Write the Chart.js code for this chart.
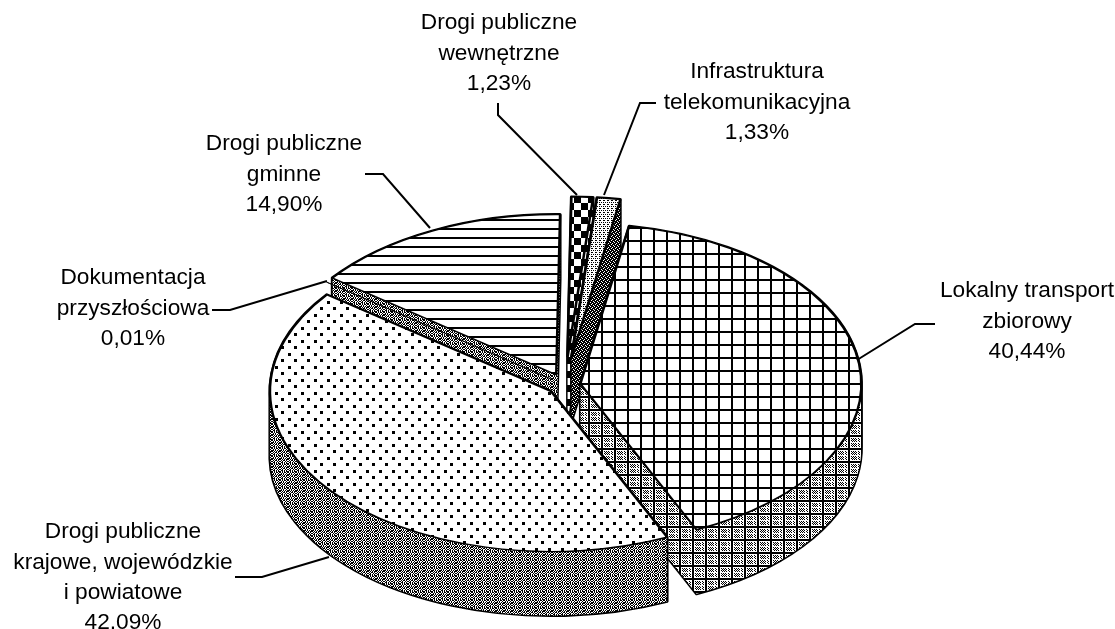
<!DOCTYPE html>
<html lang="pl">
<head>
<meta charset="utf-8">
<title>Pie</title>
<style>html,body{margin:0;padding:0;background:#fff;overflow:hidden}canvas{display:block}</style>
<script src="https://cdn.jsdelivr.net/npm/chart.js@4/dist/chart.umd.js"></script>
</head>
<body>
<canvas id="c" width="1115" height="629"></canvas>
<script>
// ---- values ----
const categories = ['Lokalny transport zbiorowy','Drogi publiczne krajowe, wojewódzkie i powiatowe','Dokumentacja przyszłościowa','Drogi publiczne gminne','Drogi publiczne wewnętrzne','Infrastruktura telekomunikacyjna'];
const shares = [40.44, 42.09, 0.01, 14.90, 1.23, 1.33];
const explodeDistances = [15.5, 18, 18, 20, 49, 49];

const labelLines = [
  ['Lokalny transport','zbiorowy','40,44%'],
  ['Drogi publiczne','krajowe, wojewódzkie','i powiatowe','42,09%'],
  ['Dokumentacja','przyszłościowa','0,01%'],
  ['Drogi publiczne','gminne','14,90%'],
  ['Drogi publiczne','wewnętrzne','1,23%'],
  ['Infrastruktura','telekomunikacyjna','1,33%']
];
const labelAnchors = [[1027,291],[123,532],[133,278],[284,144],[499,23],[757,72]];
const leaders = [
  [[935,324],[915,324],[857,360]],
  [[235,577],[262,577],[329,557]],
  [[212,310],[230,310],[327,281]],
  [[365,174],[383,174],[430,228]],
  [[498,103],[498,115],[577,195]],
  [[656,103],[640,103],[604,195]]
];

// ---- style ----
const SQUASH = 0.57, DEPTH = 64, RADIUS = 281, ROTATION = 10;
const LINE_GAP = 30.3, FONT = '22.7px "Liberation Sans", Arial, sans-serif';

function tile(w, h, paint) {
  const t = document.createElement('canvas');
  t.width = w; t.height = h;
  const g = t.getContext('2d');
  g.fillStyle = '#fff'; g.fillRect(0, 0, w, h);
  g.fillStyle = '#000';
  paint(g);
  return document.createElement('canvas').getContext('2d').createPattern(t, 'repeat');
}
function bitmap(rows) {
  return tile(rows[0].length, rows.length, g => rows.forEach((r, y) => [...r].forEach((c, x) => { if (c === '#') g.fillRect(x, y, 1, 1); })));
}
const gridTop = tile(13, 13, g => { g.fillRect(3, 0, 2, 13); g.fillRect(0, 6, 13, 2); });
const dotsTop = tile(13, 13, g => { g.fillRect(2, 2, 3, 3); g.fillRect(8, 8, 3, 3); });
const linesTop = tile(9, 9, g => g.fillRect(0, 3, 9, 2));
const checkerTop = tile(14, 14, g => { g.fillRect(0, 0, 7, 7); g.fillRect(7, 7, 7, 7); });
const fineTop = bitmap(['#..#','....','.#.#','....']);
const ditherWall = bitmap(['#.#.##.#','.#.#..#.','##.#.#.#','#.#.#.##','.#.##.#.','#.#..#.#','.##.#.#.','#.#.#.##']);
const gridWall = tile(13, 13, g => {
  g.fillRect(3, 0, 2, 13); g.fillRect(0, 6, 13, 2);
  [[6,1],[8,1],[10,1],[7,2],[9,2],[11,2],[6,3],[8,3],[10,3],[7,4],[9,4],[11,4],
   [6,9],[8,9],[10,9],[7,10],[9,10],[11,10],[6,11],[8,11],[10,11],[7,12],[9,12],[11,12],
   [0,1],[1,2],[0,3],[1,4],[0,9],[1,10],[0,11],[1,12]].forEach(p => g.fillRect(p[0], p[1], 1, 1));
});
const darkWall = bitmap(['###.','#.##','##.#','.###']);
const topFills = [gridTop, dotsTop, ditherWall, linesTop, checkerTop, fineTop];
const wallFills = [gridWall, ditherWall, ditherWall, ditherWall, checkerTop, darkWall];

// ---- a pie controller that tilts and extrudes its arcs ----
class Pie3DController extends Chart.PieController {
  draw() {
    const ctx = this.chart.ctx;
    const arcs = this._cachedMeta.data;
    const placed = arcs.map((arc, i) => {
      const mid = (arc.startAngle + arc.endAngle) / 2;
      const e = explodeDistances[i];
      return { arc, i, x: arc.x + e * Math.cos(mid), y: arc.y + e * Math.sin(mid) * SQUASH };
    }).sort((a, b) => a.y - b.y);

    placed.forEach(p => {
      if (p.arc.endAngle - p.arc.startAngle < 0.01) return;
      const one = new Path2D();
      one.moveTo(p.x, p.y);
      one.ellipse(p.x, p.y, p.arc.outerRadius, p.arc.outerRadius * SQUASH, 0, p.arc.startAngle, p.arc.endAngle);
      one.closePath();
      const wall = new Path2D();
      for (let d = 0; d <= DEPTH; d++) wall.addPath(one, new DOMMatrix().translate(0, d));
      ctx.save();
      ctx.strokeStyle = '#000';
      ctx.lineWidth = 3;
      ctx.lineJoin = 'round';
      ctx.stroke(wall);
      ctx.fillStyle = wallFills[p.i];
      ctx.fill(wall);
      ctx.restore();
    });

    placed.forEach(p => {
      ctx.save();
      ctx.translate(p.x, p.y);
      ctx.scale(1, SQUASH);
      ctx.translate(-p.arc.x, -p.arc.y);
      topFills[p.i].setTransform(ctx.getTransform().inverse());
      p.arc.draw(ctx);
      ctx.restore();
      topFills[p.i].setTransform(new DOMMatrix());
    });
  }
}
Pie3DController.id = 'pie3d';
Pie3DController.defaults = {};
Chart.register(Pie3DController);

const calloutPlugin = {
  id: 'callouts',
  afterDraw(chart) {
    const ctx = chart.ctx;
    ctx.save();
    ctx.strokeStyle = '#000';
    ctx.lineWidth = 2;
    leaders.forEach(l => {
      ctx.beginPath();
      l.forEach((p, i) => i ? ctx.lineTo(p[0], p[1]) : ctx.moveTo(p[0], p[1]));
      ctx.stroke();
    });
    ctx.fillStyle = '#000';
    ctx.font = FONT;
    ctx.textAlign = 'center';
    ctx.textBaseline = 'middle';
    labelLines.forEach((lines, i) => lines.forEach((t, k) => ctx.fillText(t, labelAnchors[i][0], labelAnchors[i][1] + k * LINE_GAP)));
    ctx.restore();
  }
};

new Chart(document.getElementById('c'), {
  type: 'pie3d',
  data: {
    labels: categories,
    datasets: [{
      data: shares,
      backgroundColor: topFills,
      borderColor: '#000',
      borderWidth: [2.5, 2.5, 1, 2.5, 2.5, 2.5],
      clip: false
    }]
  },
  options: {
    responsive: false,
    animation: false,
    events: [],
    rotation: ROTATION,
    radius: RADIUS,
    cutout: 0,
    layout: { padding: { left: 15, top: 141 } },
    plugins: { legend: { display: false }, tooltip: { enabled: false } }
  },
  plugins: [{ id: 'paper', beforeDraw(c) { c.ctx.save(); c.ctx.fillStyle = '#fff'; c.ctx.fillRect(0, 0, c.width, c.height); c.ctx.restore(); } }, calloutPlugin]
});
</script>
</body>
</html>
